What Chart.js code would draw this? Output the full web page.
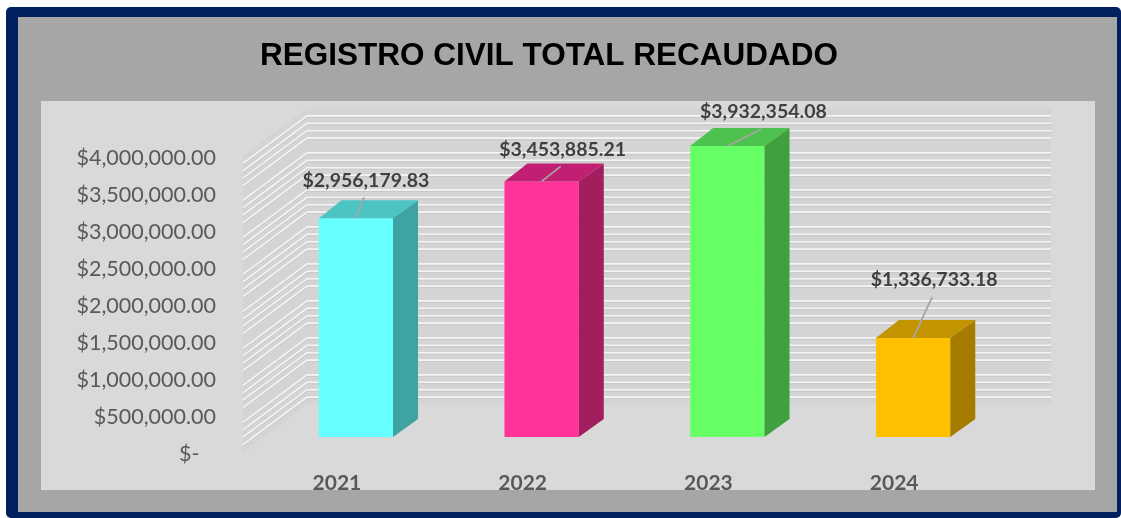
<!DOCTYPE html>
<html>
<head>
<meta charset="utf-8">
<script src="https://cdn.jsdelivr.net/npm/chart.js@4.4.1/dist/chart.umd.min.js"></script>
<style>
html,body{margin:0;padding:0;background:#fff;overflow:hidden}
#wrap{width:1121px;height:518px;position:relative}
canvas{display:block}
</style>
</head>
<body>
<div id="wrap"><canvas id="c" width="1121" height="518"></canvas></div>
<script>
// ---- data ----
const chartTitle = 'REGISTRO CIVIL TOTAL RECAUDADO';
const categories = ['2021', '2022', '2023', '2024'];
const values = [2956179.83, 3453885.21, 3932354.08, 1336733.18];
const yTickMin = 0;
const yTickMax = 4000000;
const yTickStep = 500000;
const minorStep = 100000;

// ---- styles ----
const frontColors = ['#66FFFF', '#FF3399', '#66FF66', '#FFC000'];
const topColors   = ['#4CC4C4', '#C21F72', '#4EC24E', '#C49400'];
const sideColors  = ['#3FA3A3', '#A21E5F', '#40A040', '#A67C00'];
// label placement relative to each bar's front-top centre (dx, dy)
const labelShift = [[10, -38], [21, -32], [36, -34], [21, -58]];

const money = v => '$' + v.toLocaleString('en-US', {minimumFractionDigits: 2, maximumFractionDigits: 2});

const DEPTH_X = 25, DEPTH_Y = -18;           // bar depth
const WALL_LEFT = 243, WALL_BACK = 307, WALL_RIGHT = 1051;
const WALL_FRONT_DY = 15, WALL_BACK_DY = -32.5;

const framePlugin = {
  id: 'frame',
  beforeDraw(chart) {
    const ctx = chart.ctx;
    ctx.save();
    ctx.fillStyle = '#FFFFFF';
    ctx.fillRect(0, 0, chart.width, chart.height);
    ctx.fillStyle = '#002060';
    ctx.beginPath();
    ctx.roundRect(6, 7, 1115, 511, 5);
    ctx.fill();
    ctx.fillStyle = '#A6A6A6';
    ctx.fillRect(18, 17, 1099, 495);
    ctx.fillStyle = '#D9D9D9';
    ctx.fillRect(41, 101, 1054, 389);
    // title
    ctx.fillStyle = '#000000';
    ctx.font = 'bold 31.5px "Liberation Sans", Arial, sans-serif';
    ctx.textAlign = 'center';
    ctx.textBaseline = 'middle';
    ctx.fillText(chartTitle, 549, 56);
    ctx.restore();
  },
  beforeDatasetsDraw(chart) {
    const ctx = chart.ctx;
    const y = chart.scales.y;
    const top = y.getPixelForValue(yTickMax), bot = y.getPixelForValue(yTickMin);
    ctx.save();
    // walls
    ctx.fillStyle = '#D4D4D4';
    ctx.beginPath();
    ctx.moveTo(WALL_LEFT, top + WALL_FRONT_DY);
    ctx.lineTo(WALL_BACK, top + WALL_BACK_DY);
    ctx.lineTo(WALL_RIGHT, top + WALL_BACK_DY);
    ctx.lineTo(WALL_RIGHT, bot + WALL_BACK_DY);
    ctx.lineTo(WALL_BACK, bot + WALL_BACK_DY);
    ctx.lineTo(WALL_LEFT, bot + WALL_FRONT_DY);
    ctx.closePath();
    ctx.fill();
    // minor gridlines
    for (let v = yTickMin + minorStep; v < yTickMax; v += minorStep) {
      if (Math.round(v) % yTickStep === 0) continue;
      const p = y.getPixelForValue(v);
      ctx.strokeStyle = '#C9C9C9';
      ctx.lineWidth = 1;
      ctx.beginPath();
      ctx.moveTo(WALL_LEFT, p + WALL_FRONT_DY + 1.5);
      ctx.lineTo(WALL_BACK, p + WALL_BACK_DY + 1.5);
      ctx.lineTo(WALL_RIGHT, p + WALL_BACK_DY + 1.5);
      ctx.stroke();
      ctx.strokeStyle = '#F4F4F4';
      ctx.lineWidth = 1.6;
      ctx.beginPath();
      ctx.moveTo(WALL_LEFT, p + WALL_FRONT_DY);
      ctx.lineTo(WALL_BACK, p + WALL_BACK_DY);
      ctx.lineTo(WALL_RIGHT, p + WALL_BACK_DY);
      ctx.stroke();
    }
    ctx.restore();
  },
  afterDatasetsDraw(chart) {
    const ctx = chart.ctx;
    const meta = chart.getDatasetMeta(0);
    const base = chart.scales.y.getPixelForValue(0);
    ctx.save();
    meta.data.forEach((bar, i) => {
      const x1 = bar.x - bar.width / 2, x2 = bar.x + bar.width / 2, yt = bar.y;
      // top face
      ctx.fillStyle = topColors[i];
      ctx.beginPath();
      ctx.moveTo(x1, yt);
      ctx.lineTo(x2, yt);
      ctx.lineTo(x2 + DEPTH_X, yt + DEPTH_Y);
      ctx.lineTo(x1 + DEPTH_X - 2, yt + DEPTH_Y);
      ctx.closePath();
      ctx.fill();
      // side face
      ctx.fillStyle = sideColors[i];
      ctx.beginPath();
      ctx.moveTo(x2, yt);
      ctx.lineTo(x2 + DEPTH_X, yt + DEPTH_Y);
      ctx.lineTo(x2 + DEPTH_X, base + DEPTH_Y);
      ctx.lineTo(x2, base);
      ctx.closePath();
      ctx.fill();
      // label + leader line
      const lx = bar.x + labelShift[i][0], ly = yt + labelShift[i][1];
      ctx.strokeStyle = '#A6A6A6';
      ctx.lineWidth = 1.8;
      ctx.beginPath();
      ctx.moveTo(bar.x, yt);
      ctx.lineTo(lx - 2, ly + 17);
      ctx.stroke();
      ctx.fillStyle = '#404040';
      ctx.font = 'bold 19.5px Lato';
      ctx.textAlign = 'center';
      ctx.textBaseline = 'middle';
      ctx.fillText(money(values[i]), lx, ly);
    });
    ctx.restore();
  },
  afterDraw(chart) {
    const ctx = chart.ctx;
    ctx.save();
    ctx.fillStyle = '#A6A6A6';
    ctx.fillRect(18, 490, 1099, 22);
    ctx.restore();
  }
};

new Chart(document.getElementById('c'), {
  type: 'bar',
  data: {
    labels: categories,
    datasets: [{
      data: values,
      backgroundColor: frontColors,
      borderWidth: 0,
      barPercentage: 0.4,
      categoryPercentage: 1.0
    }]
  },
  options: {
    responsive: false,
    animation: false,
    devicePixelRatio: 1,
    layout: {padding: {left: 41, right: 115, top: 141, bottom: 0}},
    plugins: {
      legend: {display: false},
      tooltip: {enabled: false},
      title: {display: false}
    },
    scales: {
      x: {
        grid: {display: false, drawTicks: false},
        border: {display: false},
        ticks: {
          color: '#595959',
          font: {family: 'Lato', size: 21, weight: 'bold', lineHeight: 1.2},
          padding: 34,
          labelOffset: -19,
          maxRotation: 0
        },
        afterFit(s) { s.height = 81; }
      },
      y: {
        min: yTickMin,
        max: yTickMax,
        grid: {display: false, drawTicks: false},
        border: {display: false},
        ticks: {
          stepSize: yTickStep,
          color: '#595959',
          font: {family: 'Lato', size: 21.5, lineHeight: 1.2},
          padding: 47,
          labelOffset: 17,
          callback: v => v === 0 ? '$-   ' : money(v)
        },
        afterFit(s) { s.width = 222; }
      }
    }
  },
  plugins: [framePlugin]
});
</script>
</body>
</html>
